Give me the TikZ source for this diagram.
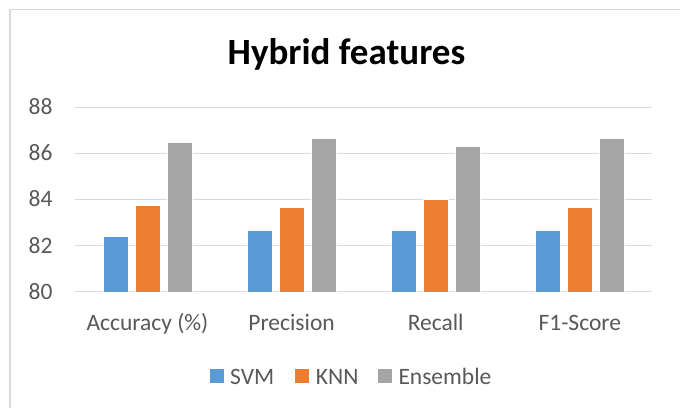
\documentclass[tikz,border=0pt]{standalone}
\usepackage{fontspec}
\setmainfont{Carlito}
\definecolor{svmc}{HTML}{5B9BD5}
\definecolor{knnc}{HTML}{ED7D31}
\definecolor{ensc}{HTML}{A5A5A5}
\definecolor{gridc}{HTML}{D9D9D9}
\definecolor{txtc}{HTML}{595959}
\definecolor{framec}{HTML}{D9D9D9}
\tikzset{
  lbl/.style={inner sep=0pt, text=txtc, font=\fontsize{23.5}{28}\selectfont},
  ttl/.style={inner sep=0pt, text=black, font=\fontsize{37}{44}\selectfont\bfseries},
  gridline/.style={draw=gridc, line width=1.3pt},
  barstyle/.style={draw=white, line width=0.4pt},
}
\newcommand{\yv}[1]{291.7-(#1-80)*23.03}
\begin{document}
\begin{tikzpicture}[x=1pt,y=-1pt]
\useasboundingbox (0,0) rectangle (680,408);
\fill[white] (0,0) rectangle (680,408);
% frame
\draw[framec, line width=1.2pt] (10,408) -- (10,9.5) -- (680,9.5);
% title
\node[ttl, anchor=base] (title) at (346.5,64.3) {Hybrid features};
% gridlines and tick labels
\foreach \v/\nm in {80/a,82/b,84/c,86/d,88/e} {
  \coordinate (gl\nm) at (75.3,{\yv{\v}});
  \coordinate (gr\nm) at (651.7,{\yv{\v}});
  \draw[gridline] (gl\nm) -- (gr\nm);
  \node[lbl, anchor=base east] (tick\nm) at (52.7,{\yv{\v}+7.4}) {\v};
}
% bars
\foreach \i/\s/\k/\e in {0/82.42/83.77/86.48, 1/82.65/83.65/86.65, 2/82.65/84.0/86.32, 3/82.65/83.65/86.65} {
  \pgfmathsetmacro{\cx}{147.5+\i*144.1}
  \fill[svmc, barstyle] ({\cx-44.5},{\yv{80}}) rectangle ({\cx-19.5},{\yv{\s}});
  \fill[knnc, barstyle] ({\cx-12.5},{\yv{80}}) rectangle ({\cx+12.5},{\yv{\k}});
  \fill[ensc, barstyle] ({\cx+19.2},{\yv{80}}) rectangle ({\cx+44.2},{\yv{\e}});
}
% category labels
\node[lbl, anchor=base] (cat1) at (147.5,330.5) {Accuracy (\%)};
\node[lbl, anchor=base] (cat2) at (291.6,330.5) {Precision};
\node[lbl, anchor=base] (cat3) at (435.7,330.5) {Recall};
\node[lbl, anchor=base] (cat4) at (579.8,330.5) {F1-Score};
% legend
\fill[svmc] (210,369.3) rectangle (224,383.3);
\node[lbl, anchor=base west] (lsvm) at (230,384) {SVM};
\fill[knnc] (295,369.3) rectangle (309,383.3);
\node[lbl, anchor=base west] (lknn) at (315.7,384) {KNN};
\fill[ensc] (378.3,369.3) rectangle (392.3,383.3);
\node[lbl, anchor=base west] (lens) at (398.3,384) {Ensemble};
\end{tikzpicture}
\end{document}
